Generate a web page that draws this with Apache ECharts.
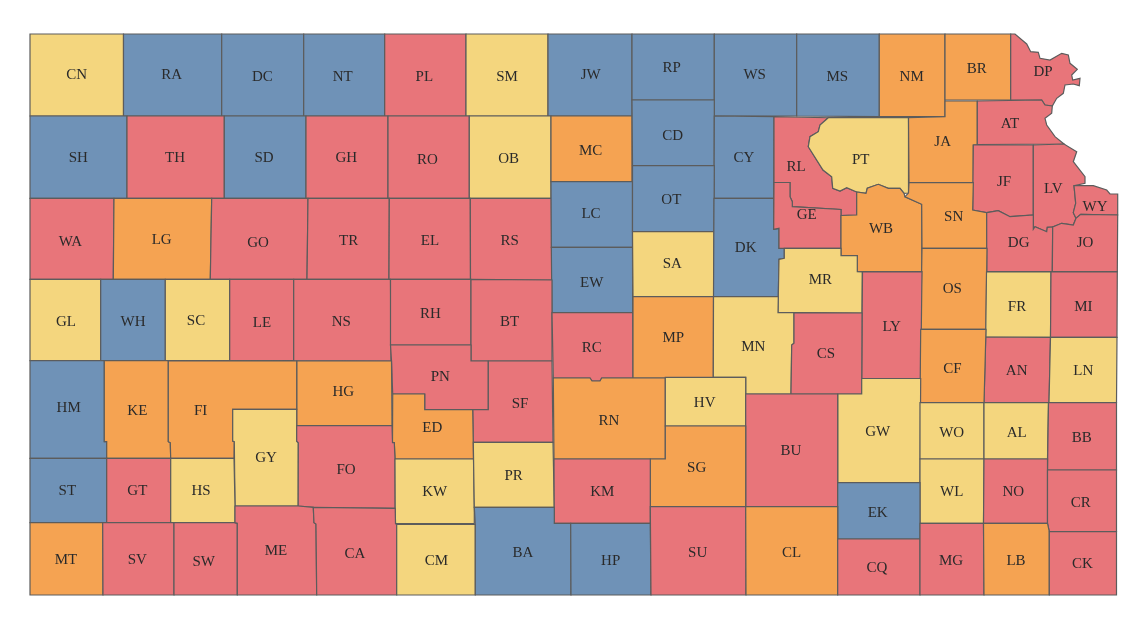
<!DOCTYPE html>
<html>
<head>
<meta charset="utf-8">
<title>Kansas counties</title>
<script src="https://cdn.jsdelivr.net/npm/echarts@6/dist/echarts.min.js"></script>
<style>
html, body { margin: 0; background: #fff; }
#main { width: 1140px; height: 640px; }
</style>
</head>
<body>
<div id="main"></div>
<script>
// counties per colour class
var highCounties = ['PL','TH','GH','RO','WA','GO','TR','EL','RS','LE','NS','RH','BT','RC','PN','SF','GT','SV','SW','ME','CA','FO','KM','SU','BU','CS','LY','RL','GE','DP','AT','JF','LV','WY','DG','JO','MI','AN','BB','NO','CR','CK','MG','CQ'];
var midCounties = ['NM','BR','JA','SN','WB','OS','CF','MC','MP','LG','KE','FI','HG','ED','RN','SG','CL','MT','LB'];
var lowCounties = ['CN','SM','OB','SA','GL','SC','MN','MR','PT','FR','LN','WO','AL','WL','GW','HV','GY','HS','KW','PR','CM'];
var noneCounties = ['RA','DC','NT','JW','RP','WS','MS','SH','SD','LC','EW','CD','OT','CY','DK','WH','HM','ST','BA','HP','EK'];

var classColors = { high: '#e8757a', mid: '#f5a352', low: '#f4d67e', none: '#6f92b7' };

// county outlines, in the plane of the map: x1,y1, x2,y2, ...
var outlines = {
  CN: [30,34, 123.5,34, 123.5,116, 30,116],
  RA: [123.5,34, 221.7,34, 221.7,116, 123.5,116],
  DC: [221.7,34, 303.7,34, 303.7,116, 221.7,116],
  NT: [303.7,34, 384.7,34, 384.7,116, 303.7,116],
  PL: [384.7,34, 466,34, 466,116, 384.7,116],
  SM: [466,34, 548,34, 548,116, 466,116],
  JW: [548,34, 632,34, 632,116, 548,116],
  RP: [632,34, 714.3,34, 714.3,100, 632,100],
  WS: [714.3,34, 796.7,34, 796.7,116, 714.3,116],
  MS: [796.7,34, 879.3,34, 879.3,116.7, 796.7,116],
  NM: [879.3,34, 945,34, 945,116.7, 879.3,116.7],
  BR: [945,34, 1010.7,34, 1010.7,100, 945,100],
  DP: [1010.7,34, 1015,34, 1026.7,44, 1030.7,51.7, 1038.3,52.3, 1040,58.3, 1050,60, 1061.7,53.3, 1068.3,55, 1070,63.3, 1077.3,69.3, 1071.7,75, 1072.7,80, 1080,78.3, 1079.3,85.7, 1073.3,84, 1065,85, 1063.3,93.3, 1056.7,98.3, 1052.3,106, 1045,105, 1041.7,100, 1010.7,100],
  SH: [30,116, 127,116, 127,198.3, 30,198.3],
  TH: [127,116, 224.3,116, 224.3,198.3, 127,198.3],
  SD: [224.3,116, 306,116, 306,198.3, 224.3,198.3],
  GH: [306,116, 388,116, 388,198.3, 306,198.3],
  RO: [388,116, 469.3,116, 469.3,198.3, 388,198.3],
  OB: [469.3,116, 551,116, 551,198.3, 469.3,198.3],
  MC: [551,116, 632,116, 632,181.7, 551,181.7],
  CD: [632,100, 714.3,100, 714.3,165.7, 632.5,165.7],
  CY: [714.3,116, 774,116.7, 773.7,198.3, 714,198.3],
  WA: [30,198.3, 114,198.3, 113.3,279.3, 30,279.3],
  LG: [114,198.3, 211.7,198.3, 210.3,279.3, 113.3,279.3],
  GO: [211.7,198.3, 308,198.3, 307,279.3, 210.3,279.3],
  TR: [308,198.3, 389.3,198.3, 389,279.3, 307,279.3],
  EL: [389.3,198.3, 470.3,198.3, 470.5,279.3, 389,279.3],
  RS: [470.3,198.3, 551.3,198.3, 552,280, 470.5,279.3],
  LC: [551,181.7, 632.5,181.7, 632.5,247.3, 551.3,247.3],
  OT: [632.5,165.7, 714.3,165.7, 714,231.7, 632.5,231.7],
  EW: [551.3,247.3, 632.5,247.3, 632.7,312.7, 552,312.7],
  SA: [632.5,231.7, 714,231.7, 713.7,296.7, 633,296.7],
  DK: [714,198.3, 773.7,198.3, 773.7,229.3, 779,228.3, 779,248.3, 784.3,248.3, 784.3,258.3, 779,259.3, 778.3,296.7, 713.5,296.7],
  RL: [774,116.7, 828.3,117.7, 820,125, 818.3,131.7, 810,136.7, 808.3,146.7, 823,170, 831.7,176.7, 832.7,188.3, 840,191, 846.7,187.7, 856.7,192, 856.7,215, 841,215.5, 841,209.5, 792.3,206.7, 792.3,201.7, 790,196.7, 790,182.5, 774,182.5],
  PT: [828.3,117.7, 908.5,117.7, 908.5,193, 904,193.3, 900,188.3, 888.3,188.3, 878.3,184.3, 867.3,188.3, 866,193.3, 856.7,192, 846.7,187.7, 840,191, 832.7,188.3, 831.7,176.7, 823,170, 808.3,146.7, 810,136.7, 818.3,131.7, 820,125],
  JA: [945,101, 977.3,101, 977.3,144.5, 973.3,145, 973.3,182.7, 909,182.7, 908.5,117.7, 945,116.7],
  AT: [977.3,101, 1041.7,100, 1045,105, 1052.3,106, 1051.7,113.3, 1045,118.3, 1046.7,125, 1055,136.7, 1064,144, 977.3,144.5],
  JF: [973.3,145, 1033.3,145, 1033.3,215, 1010,216.7, 998.3,210.7, 986.7,212.7, 972.7,210],
  LV: [1033.3,145, 1064,144, 1076.7,151.7, 1073.3,161.7, 1085,176.7, 1085,183.3, 1074,185.7, 1075.7,203.3, 1073.3,212.7, 1076,218.3, 1073.3,225, 1061.7,223.3, 1052.7,227, 1047.3,227.3, 1046.7,231.7, 1035,226.7, 1033.3,229.3],
  WY: [1074,185.7, 1093.3,185.7, 1106.7,190, 1110,194, 1117.7,194, 1117.7,215, 1080.7,214.3, 1076,218.3, 1073.3,212.7, 1075.7,203.3],
  GE: [774,182.5, 790,182.5, 790,196.7, 792.3,201.7, 792.3,206.7, 841,209.5, 841,248.3, 784.3,248.3, 779,248.3, 779,228.3, 773.7,229.3],
  WB: [841,215.5, 856.7,215, 856.7,192, 866,193.3, 867.3,188.3, 878.3,184.3, 888.3,188.3, 900,188.3, 904,193.3, 905,196.7, 921.7,204.3, 922,271.7, 857.3,271.7, 857.3,255.7, 841,255.7],
  SN: [909,182.7, 973.3,182.7, 972.7,210, 986.7,212.7, 987,248.3, 922,248.3, 921.7,204.3, 905,196.7, 908.5,193],
  DG: [986.7,212.7, 998.3,210.7, 1010,216.7, 1033.3,215, 1033.3,229.3, 1035,226.7, 1046.7,231.7, 1047.3,227.3, 1052.7,227, 1052.3,271.7, 986.7,271.7],
  JO: [1080.7,214.3, 1117.7,215, 1117.3,271.7, 1052.3,271.7, 1052.7,227, 1061.7,223.3, 1073.3,225, 1076,218.3],
  MR: [784.3,248.3, 841,248.3, 841,255.7, 857.3,255.7, 857.3,271.7, 862.3,272, 862,313, 778,312.7, 778.3,296.7, 779,259.3, 784.3,258.3],
  OS: [922,248.3, 987,248.3, 986,329.3, 920.7,329.3],
  LY: [862.5,272, 922,271.7, 920.7,378.5, 861.7,378.5],
  FR: [986.5,272, 1051,272, 1050.5,337.3, 985.7,337],
  MI: [1051,272, 1117.3,271.7, 1117,337.3, 1050.5,337.3],
  GL: [30,279.3, 100.7,279.3, 100.7,360.7, 30,360.7],
  WH: [100.7,279.3, 165.3,279.3, 165.3,360.7, 100.7,360.7],
  SC: [165.3,279.3, 229.7,279.3, 229.7,360.7, 165.3,360.7],
  LE: [229.7,279.3, 293.7,279.3, 293.7,360.7, 229.7,360.7],
  NS: [293.7,279.3, 390.5,279.3, 391,361, 293.7,360.7],
  RH: [390.5,279.3, 471,279.3, 471,345, 390.5,345],
  BT: [471,279.3, 552,280, 552,361, 471,361],
  RC: [552,312.7, 632.7,312.7, 633,378, 601.7,378, 600,381, 592,381, 590,378, 553.3,378],
  MP: [633,296.7, 713.5,296.7, 713.3,377.3, 665.3,378, 633,378],
  MN: [713.5,296.7, 778.3,296.7, 778,312.7, 794,312.7, 794,343.3, 791.7,345, 791,394, 745.7,394, 745.7,377.3, 713.3,377.3],
  CS: [794,312.7, 862,313, 861.7,394, 791,394, 791.7,345, 794,343.3],
  PN: [390.5,345, 471,345, 471,361, 488.3,361, 488.3,409.7, 424.7,409.7, 424.7,394, 392.7,394, 391.5,361],
  SF: [488.3,361, 552,361, 553,442.3, 473.3,442.3, 472.7,409.7, 488.3,409.7],
  HG: [296.7,361, 391.5,361, 392,425.7, 296.7,425.7],
  HM: [30,360.7, 104.3,360.7, 104.3,441.7, 106.7,441.7, 106.7,458.3, 30,458.3],
  KE: [104.3,360.7, 168.3,360.7, 168.3,441.7, 170.3,442.7, 170.7,458.3, 106.7,458.3, 106.7,441.7, 104.3,441.7],
  FI: [168.3,360.7, 296.7,361, 296.7,409.3, 232.7,409.3, 232.7,441, 234.3,441.7, 234,458.3, 170.7,458.3, 170.3,442.7, 168.3,441.7],
  GY: [232.7,409.3, 296.7,409.3, 296.7,441.3, 298.3,442.7, 298.2,506, 235,506, 234.3,441.7, 232.7,441],
  ED: [392.7,394, 424.7,394, 424.7,409.7, 472.7,409.7, 473.5,459, 395,459, 394.3,442.7, 392.5,442.7],
  FO: [296.7,425.7, 392,425.7, 392.5,442.7, 394.3,442.7, 395,459, 395.2,508.3, 313.3,507.3, 298.2,506, 298.3,442.7, 296.7,441.3],
  RN: [553.3,378, 590,378, 592,381, 600,381, 601.7,378, 665.3,378, 665.3,459, 554,459],
  HV: [665.3,377.3, 745.7,377.3, 745.7,426, 665.3,426],
  AN: [985.7,337, 1050.5,337.3, 1049,402.7, 984,402.7],
  LN: [1050.5,337.3, 1117,337.3, 1116.5,402.7, 1049,402.7],
  CF: [920.7,329.3, 986,329.3, 984,402.7, 920,402.7],
  GW: [837.7,394, 861.7,394, 861.7,378.5, 920.7,378.5, 920,482.7, 837.7,482.7],
  BU: [745.7,394, 837.7,394, 837.7,506.7, 745.7,506.7],
  WO: [920,402.7, 984,402.7, 984,459, 920,459],
  AL: [984,402.7, 1048.5,402.7, 1047.5,459, 984,459],
  BB: [1048.5,402.7, 1116.5,402.7, 1116.5,470, 1047.5,470],
  SG: [665.3,426, 745.7,426, 745.7,506.7, 650.3,506.7, 650.3,459, 665.3,459],
  ST: [30,458.3, 106.7,458.3, 106.7,522.7, 30,522.7],
  GT: [106.7,458.3, 170.7,458.3, 170.7,522.7, 106.7,522.7],
  HS: [170.7,458.3, 234,458.3, 235,506, 235,522.7, 170.7,522.7],
  KW: [395,459, 473.5,459, 474.3,507.3, 474.3,523.5, 395.5,523.5, 395.2,508.3],
  PR: [473.3,442.3, 553,442.3, 554.3,507.3, 474.3,507.3],
  KM: [554,459, 650.3,459, 650.3,523.3, 554.3,523.3],
  WL: [920,459, 984,459, 983.5,523.3, 920,523.3],
  NO: [984,459, 1047.5,459, 1047.5,523.3, 983.5,523.3],
  CR: [1047.5,470, 1116.5,470, 1116.5,531.7, 1049.3,531.7, 1047.5,523.3],
  EK: [837.7,482.7, 920,482.7, 920,539, 837.7,539],
  MT: [30,522.7, 102.7,522.7, 103,595, 30,595],
  SV: [102.7,522.7, 174,522.7, 174,595, 103,595],
  SW: [174,522.7, 235,522.7, 237.3,523.3, 237.3,595, 174,595],
  ME: [235,506, 298.2,506, 313.3,507.3, 314,522.7, 316,524, 316.7,595, 237.3,595, 237.3,523.3, 235,522.7],
  CA: [313.3,507.3, 395.2,508.3, 395.5,523.5, 396.7,525, 396.7,595, 316.7,595, 316,524, 314,522.7],
  CM: [396.7,524.5, 475.3,524.5, 475.3,595, 396.7,595],
  BA: [474.3,507.3, 554.3,507.3, 554.3,523.3, 570.7,523.3, 571,595, 475.3,595, 475.3,524.5, 474.3,523.5],
  HP: [570.7,523.3, 650.3,523.3, 651,595, 571,595],
  SU: [650.3,506.7, 745.7,506.7, 746,595, 651,595],
  CL: [745.7,506.7, 837.7,506.7, 837.7,595, 746,595],
  CQ: [837.7,539, 920,539, 920,595, 837.7,595],
  MG: [920,523.3, 983.5,523.3, 984,595, 920,595],
  LB: [983.5,523.3, 1047.5,523.3, 1049.3,531.7, 1049.3,595, 984,595],
  CK: [1049.3,531.7, 1116.5,531.7, 1116.5,595, 1049.3,595]
};

// where each county's label sits
var labelSpots = {
  CN:[76.7,74.5], RA:[171.7,74.5], DC:[262.3,76], NT:[342.7,76], PL:[424.3,76], SM:[507,76], JW:[590.7,74.5], RP:[671.7,67], WS:[754.7,74.5], MS:[837.3,76], NM:[911.7,76], BR:[976.7,68.3], DP:[1043,71],
  AT:[1010,123.3], PT:[860.7,159], JA:[942.7,141], RL:[796,166], JF:[1004,180.7], LV:[1053.3,188.3], WY:[1095,206], GE:[806.7,214.3], WB:[881,227.7], SN:[953.7,215.7], DG:[1018.7,242.3], JO:[1085,242],
  MR:[820.3,279.3], OS:[952.3,288], FR:[1017,306], MI:[1083.3,306], LY:[891.7,325.7], CS:[826,353.3], CF:[952.3,368], AN:[1016.7,370], LN:[1083.3,370], MN:[753.3,346],
  GW:[877.7,430.7], WO:[951.7,431.7], AL:[1016.7,431.7], BB:[1081.7,436.7], BU:[791,450], WL:[951.7,491], NO:[1013.3,491], CR:[1080.7,501.7], EK:[877.7,511.7], CL:[791.7,551.7], CQ:[877,567], MG:[951,560], LB:[1016,560], CK:[1082.3,563.3],
  RH:[430.3,313.3], BT:[509.7,320.7], RC:[591.7,347.3], MP:[673.3,336.7], PN:[440.3,376], SF:[520,402.7], RN:[609,419.7], HV:[704.7,402], ED:[432.3,427.3], SG:[696.7,466.7], PR:[513.7,475.3], KM:[602.3,490.7], KW:[434.7,491.3], BA:[523,551.7], HP:[610.7,560], CM:[436.3,560], SU:[697.7,551.7], EW:[591.7,282],
  GL:[66,320.7], WH:[133,320.7], SC:[196,319.7], LE:[262,322], NS:[341.3,320.7], HM:[68.7,407.3], KE:[137.3,410], FI:[200.7,410], HG:[343.3,390.7], GY:[266,457], FO:[346,469], ST:[67.3,490], GT:[137.3,490], HS:[201,490], ME:[276,550], CA:[355,552.7], MT:[66,559], SV:[137.3,559], SW:[203.7,561],
  SH:[78.3,157.3], TH:[175,157.3], SD:[264,157.3], GH:[346.3,157.3], WA:[70.3,240.7], LG:[161.7,238.7], GO:[258,242], TR:[348.7,240],
  RO:[427.3,158.7], OB:[508.7,157.7], MC:[590.7,150.3], CD:[672.7,134.7], CY:[744,157.3], EL:[430,240], RS:[509.7,239.7], LC:[591,213], OT:[671.3,198.7], DK:[745.7,247], SA:[672.3,262.7]
};

function toFeature(code) {
    var flat = outlines[code], ring = [];
    for (var i = 0; i < flat.length; i += 2) {
        ring.push([flat[i], flat[i + 1]]);
    }
    ring.push(ring[0]);
    return {
        type: 'Feature',
        properties: { name: code, cp: labelSpots[code] },
        geometry: { type: 'Polygon', coordinates: [ring] }
    };
}

function classItems(codes, color) {
    return codes.map(function (code) {
        return { name: code, value: 1, itemStyle: { areaColor: color } };
    });
}

echarts.registerMap('kansas', {
    type: 'FeatureCollection',
    features: Object.keys(outlines).map(toFeature)
});

var myChart = echarts.init(document.getElementById('main'));
var option = {
    animation: false,
    series: [{
        type: 'map',
        map: 'kansas',
        silent: true,
        aspectScale: 1,
        // the outlines are already in page pixels
        projection: {
            project: function (p) { return [p[0], p[1]]; },
            unproject: function (p) { return [p[0], p[1]]; }
        },
        left: 30,
        top: 34,
        width: 1087.7,
        height: 561,
        itemStyle: { borderColor: '#5c5c5c', borderWidth: 1.2 },
        label: {
            show: true,
            formatter: '{b}',
            fontFamily: 'Liberation Serif',
            fontSize: 15,
            color: '#2a2a2a',
            offset: [0, 1]
        },
        emphasis: { disabled: true },
        data: classItems(highCounties, classColors.high)
            .concat(classItems(midCounties, classColors.mid))
            .concat(classItems(lowCounties, classColors.low))
            .concat(classItems(noneCounties, classColors.none))
    }]
};
myChart.setOption(option);
</script>
</body>
</html>
